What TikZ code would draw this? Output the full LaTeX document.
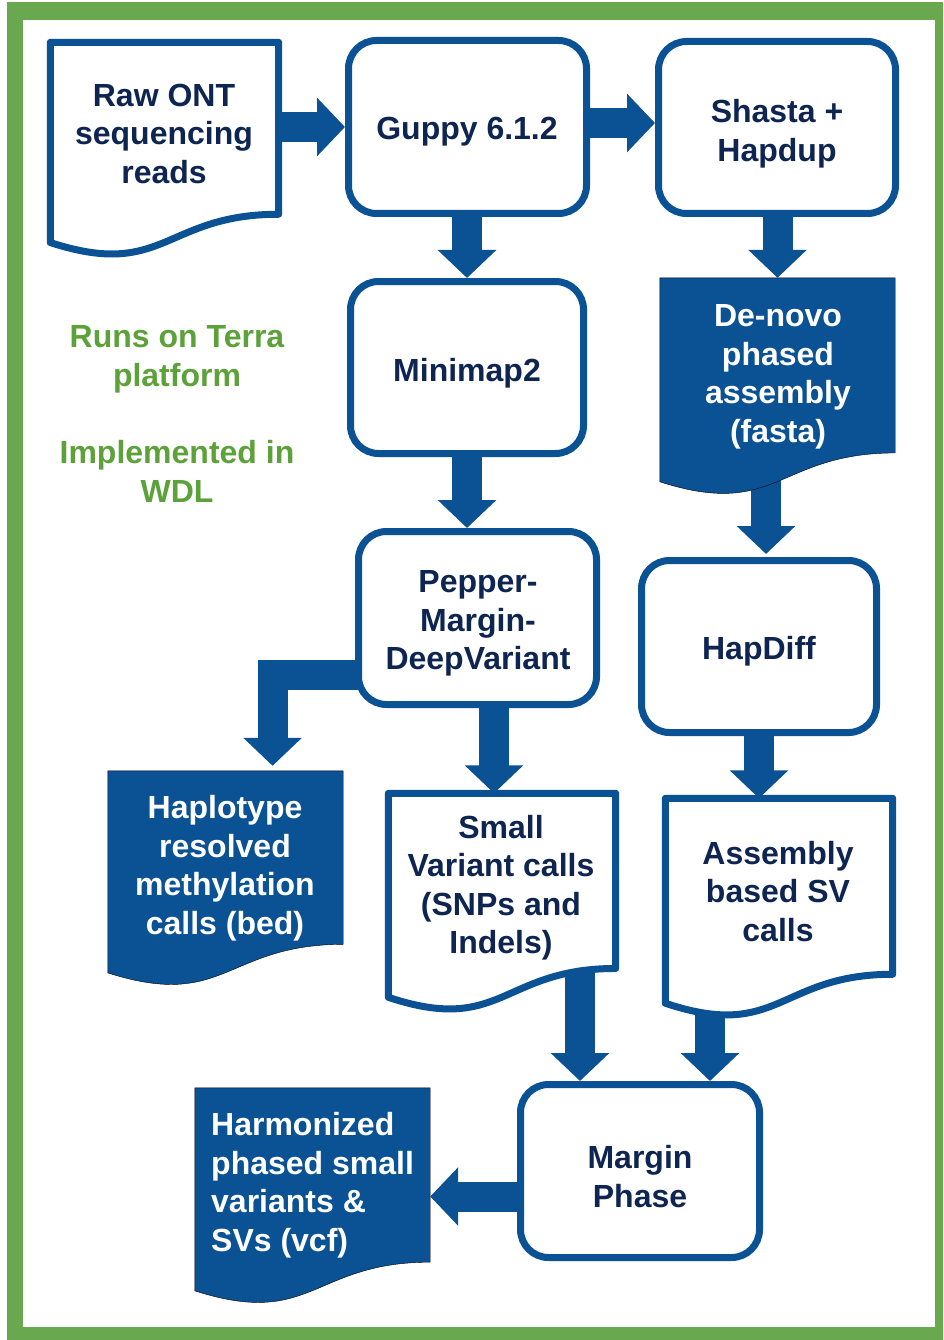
\documentclass[tikz,border=0pt]{standalone}
\usepackage{fontspec}
\setmainfont{Liberation Sans}
\usetikzlibrary{calc,arrows.meta,backgrounds}
\definecolor{fblue}{HTML}{0A5294}
\definecolor{navy}{HTML}{0E2552}
\definecolor{framegreen}{HTML}{6AA84F}
\definecolor{txtgreen}{HTML}{5DA13A}
\newcommand\drawdoc[2]{\draw[#2] (#1.north west) -- (#1.north east) -- ($(#1.north east)!0.802!(#1.south east)$) .. controls ($(#1.north)!0.802!(#1.south)$) and ($(#1.north)!1.1075!(#1.south)$) .. ($(#1.north west)!0.934!(#1.south west)$) -- cycle;}
\tikzset{
  boxfont/.style={font=\fontsize{32}{38.5}\selectfont\bfseries},
  procbox/.style={draw=fblue, line width=7pt, fill=white, rounded corners=28pt, inner sep=0pt},
  docbox/.style={shape=rectangle, inner sep=0pt},
  doctext/.style={boxfont, text=navy, align=center, inner sep=0pt},
  doctextw/.style={boxfont, text=white, align=center, inner sep=0pt},
  gtext/.style={font=\fontsize{32}{39}\selectfont\bfseries, text=txtgreen, align=center, inner sep=0pt},
  blockarrow/.style={draw=fblue, line width=30pt, line join=miter, -{Triangle[width=57pt,length=28pt]}},
}
\begin{document}
\begin{tikzpicture}[x=1pt,y=-1pt]
\useasboundingbox (0,0) rectangle (943,1340);
% process boxes
\node[procbox, minimum width=238pt, minimum height=173pt] (guppy) at (467.5,127) {};
\node[procbox, minimum width=237pt, minimum height=172pt] (shasta) at (777,127.5) {};
\node[procbox, minimum width=233pt, minimum height=172pt] (minimap) at (467,367.5) {};
\node[procbox, minimum width=238pt, minimum height=173pt] (pmdv) at (477.5,618) {};
\node[procbox, minimum width=235pt, minimum height=172pt] (hapdiff) at (759,646.5) {};
\node[procbox, minimum width=239pt, minimum height=173pt] (margin) at (640,1171) {};
\node[doctext] (guppyt) at (467,132) {Guppy 6.1.2};
\node[doctext] (shastat) at (777,133.5) {Shasta +\\Hapdup};
\node[doctext] (minimapt) at (467,373.5) {Minimap2};
\node[doctext] (pmdvt) at (478,623.5) {Pepper-\\Margin-\\DeepVariant};
\node[doctext] (hapdifft) at (759,651.5) {HapDiff};
\node[doctext] (margint) at (640,1176.5) {Margin\\Phase};
% document boxes
\node[docbox, minimum width=228pt, minimum height=214pt] (raw) at (164.5,149.5) {};
\node[docbox, minimum width=235pt, minimum height=218pt] (denovo) at (777.5,387) {};
\node[docbox, minimum width=235pt, minimum height=216pt] (haplo) at (225.5,879) {};
\node[docbox, minimum width=227pt, minimum height=218pt] (small) at (502,902.5) {};
\node[docbox, minimum width=227pt, minimum height=219pt] (assembly) at (779,908) {};
\node[docbox, minimum width=235pt, minimum height=217pt] (harm) at (312.5,1196.5) {};
\drawdoc{raw}{draw=fblue, line width=7pt, fill=white, line join=round}
\drawdoc{small}{draw=fblue, line width=7pt, fill=white, line join=round}
\drawdoc{assembly}{draw=fblue, line width=7pt, fill=white, line join=round}
\drawdoc{denovo}{fill=fblue}
\drawdoc{haplo}{fill=fblue}
\drawdoc{harm}{fill=fblue}
% document texts
\node[doctext] (rawt) at (164,133.5) {Raw ONT\\sequencing\\reads};
\node[doctextw] (denovot) at (778,377) {De-novo\\phased\\assembly\\(fasta)};
\node[doctextw] (haplot) at (225,868) {Haplotype\\resolved\\methylation\\calls (bed)};
\node[doctext] (smallt) at (501,887.5) {Small\\Variant calls\\(SNPs and\\Indels)};
\node[doctext] (assemblyt) at (778,891.5) {Assembly\\based SV\\calls};
\node[doctextw, align=left, anchor=west] (harmt) at (211,1185) {Harmonized\\phased small\\variants \&\\SVs (vcf)};
% side notes
\node[gtext] (terra) at (177,359) {Runs on Terra\\platform};
\node[gtext] (wdl) at (177,471) {Implemented in\\WDL};
% helper points for arrows
\coordinate (gs) at ($(guppy.east)+(0,-4)$);
\coordinate (smin) at ($(small.north)+(-8,0)$);
\coordinate (elb) at ($(pmdv.center)+(0,57)$);
\coordinate (haplin) at ($(haplo.north west)!0.70!(haplo.north east)+(0,-5)$);
\coordinate (hdin) at ($(hapdiff.north)+(7,-3)$);
\coordinate (mpl) at ($(margin.north)+(-60,0)$);
\coordinate (mpr) at ($(margin.north)+(70,0)$);
\begin{pgfonlayer}{background}
\fill[white] (0,0) rectangle (943,1340);
\fill[framegreen] (7,2) rectangle (943,1340);
\fill[white] (23,20) rectangle (935,1327);
\draw[blockarrow] (raw.east |- guppy.west) -- (guppy.west);
\draw[blockarrow] (gs) -- (gs -| shasta.west);
\draw[blockarrow] (guppy.center -| minimap.north) -- (minimap.north);
\draw[blockarrow] (shasta.center -| denovo.north) -- (denovo.north);
\draw[blockarrow] (minimap.center) -- (minimap.center |- pmdv.north);
\draw[blockarrow] (hdin |- denovo.center) -- (hdin);
\draw[blockarrow] (elb) -| (haplin);
\draw[blockarrow] (smin |- pmdv.center) -- (smin);
\draw[blockarrow] (hapdiff.center) -- (hapdiff.center |- assembly.north);
\draw[blockarrow] (mpl |- small.center) -- (mpl);
\draw[blockarrow] (mpr |- assembly.center) -- (mpr);
\draw[blockarrow] (margin.center |- harm.east) -- (harm.east);
\end{pgfonlayer}
\end{tikzpicture}
\end{document}
